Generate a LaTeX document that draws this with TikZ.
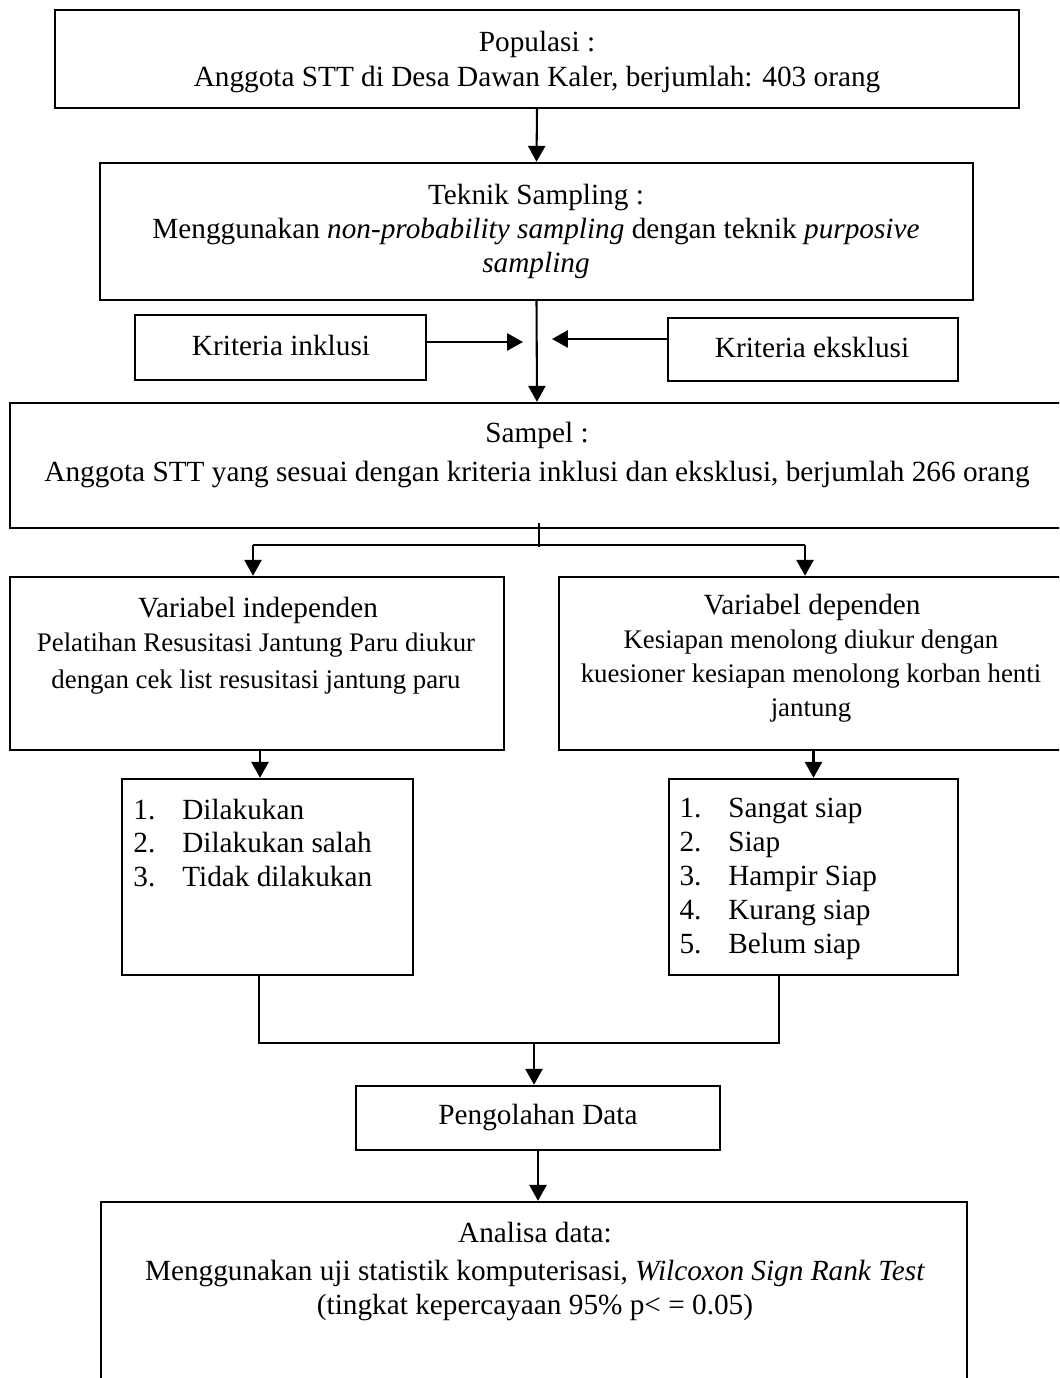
\documentclass[tikz,border=0pt]{standalone}
\usepackage{fontspec}
\setmainfont{Liberation Serif}
\usetikzlibrary{arrows.meta}
\def\pxu{0.41pt}
\tikzset{
  box/.style={draw, line width=1pt, inner sep=0pt},
  txt/.style={inner sep=0pt, align=center, font=\fontsize{12}{13.9}\selectfont},
  arr/.style={line width=0.85pt, -{Triangle[length=6.5pt,width=7pt]}},
  thinline/.style={line width=0.5pt}
}
\begin{document}
\begin{tikzpicture}[x=0.41pt, y=-0.41pt]
\useasboundingbox (0,0) rectangle (1059,1378);
\clip (0,0) rectangle (1059,1378);
% boxes
\node[box, minimum width=964*\pxu, minimum height=98*\pxu] (pop) at (537,59) {};
\node[box, minimum width=873*\pxu, minimum height=137*\pxu] (tek) at (536.5,231.5) {};
\node[box, minimum width=291*\pxu, minimum height=65*\pxu] (inkl) at (280.5,347.5) {};
\node[box, minimum width=290*\pxu, minimum height=63*\pxu] (eksk) at (813,349.5) {};
\node[box, minimum width=1054*\pxu, minimum height=125*\pxu] (sampel) at (537,465.5) {};
\node[box, minimum width=494*\pxu, minimum height=173*\pxu] (varind) at (257,663.5) {};
\node[box, minimum width=504*\pxu, minimum height=173*\pxu] (vardep) at (811,663.5) {};
\node[box, minimum width=291*\pxu, minimum height=196*\pxu] (list1) at (267.5,877) {};
\node[box, minimum width=289*\pxu, minimum height=196*\pxu] (list2) at (813.5,877) {};
\node[box, minimum width=364*\pxu, minimum height=64*\pxu] (peng) at (538,1118) {};
\node[box, minimum width=866*\pxu, minimum height=218*\pxu] (anal) at (534,1311) {};
% texts
\node[txt, font=\fontsize{12}{14}\selectfont] (popt) at (537,62) {Populasi :\\Anggota STT di Desa Dawan Kaler, berjumlah: 403 orang};
\node[txt, font=\fontsize{12}{13.8}\selectfont] (tekt) at (536,231.5) {Teknik Sampling :\\Menggunakan \textit{non-probability sampling} dengan teknik \textit{purposive}\\\textit{sampling}};
\node[txt] (inklt) at (281,345) {Kriteria inklusi};
\node[txt] (ekskt) at (812,347) {Kriteria eksklusi};
\node[txt, font=\fontsize{12}{16}\selectfont] (sampelt) at (537,455) {Sampel :\\Anggota STT yang sesuai dengan kriteria inklusi dan eksklusi, berjumlah 266 orang};
\node[txt] (varindh) at (258,610) {Variabel independen};
\node[txt, font=\fontsize{11}{15.2}\selectfont] (varindt) at (256,664) {Pelatihan Resusitasi Jantung Paru diukur\\dengan cek list resusitasi jantung paru};
\node[txt] (vardeph) at (812,607) {Variabel dependen};
\node[txt, font=\fontsize{11}{13.9}\selectfont] (vardept) at (811,676) {Kesiapan menolong diukur dengan\\kuesioner kesiapan menolong korban henti\\jantung};
\node[txt, align=left, anchor=west] (list1t) at (133,843) {\makebox[20pt][l]{1.}Dilakukan\\\makebox[20pt][l]{2.}Dilakukan salah\\\makebox[20pt][l]{3.}Tidak dilakukan};
\node[txt, align=left, anchor=west] (list2t) at (679,879) {\makebox[20pt][l]{1.}Sangat siap\\\makebox[20pt][l]{2.}Siap\\\makebox[20pt][l]{3.}Hampir Siap\\\makebox[20pt][l]{4.}Kurang siap\\\makebox[20pt][l]{5.}Belum siap};
\node[txt] (pengt) at (538,1117) {Pengolahan Data};
\node[txt] (analt) at (535,1271.5) {Analisa data:\\[2pt]Menggunakan uji statistik komputerisasi, \textit{Wilcoxon Sign Rank Test}\\(tingkat kepercayaan 95\% p< = 0.05)};
% connectors
\draw[arr] (pop.south) -- (tek.north);
\draw[arr] (tek.south) -- (sampel.north);
\coordinate (ti) at (523,342);
\coordinate (te) at (552,339);
\draw[arr] (inkl.east |- ti) -- (ti);
\draw[arr] (eksk.west |- te) -- (te);
\coordinate (tk1) at (539,523);
\coordinate (tk2) at (539,547);
\draw[thinline] (tk1) -- (tk2);
\coordinate (bl) at (253,545);
\coordinate (br) at (805,545);
\draw[thinline] (bl) -- (br);
\draw[arr] (bl) -- (varind.north -| bl);
\draw[arr] (br) -- (vardep.north -| br);
\coordinate (c1) at (260,0);
\draw[arr] (varind.south -| c1) -- (list1.north -| c1);
\draw[arr] (vardep.south -| list2.north) -- (list2.north);
\coordinate (m1) at (259,1043);
\coordinate (m2) at (779,1043);
\coordinate (mc) at (534,1043);
\draw[thinline] (list1.south -| m1) -- (m1) -- (m2) -- (list2.south -| m2);
\draw[arr] (mc) -- (peng.north -| mc);
\draw[arr] (peng.south) -- (anal.north -| peng.south);
\end{tikzpicture}
\end{document}
